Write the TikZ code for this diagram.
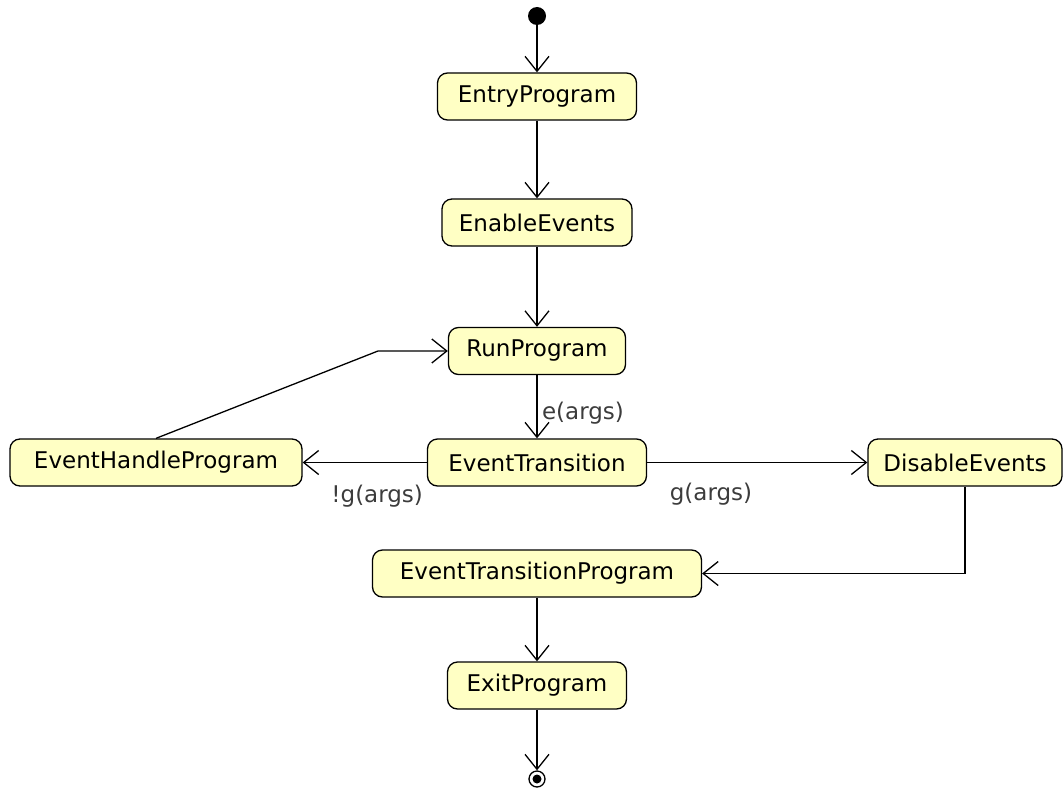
\documentclass[tikz,border=0pt]{standalone}
\usepackage{fontspec}
\setmainfont{DejaVu Sans}
\usetikzlibrary{arrows.meta,positioning}

\definecolor{actfill}{HTML}{FFFFC4}
\definecolor{guardgray}{HTML}{3C3C3C}

\begin{document}
\begin{tikzpicture}
 	[x=1pt,y=-1pt,
	action/.style={rectangle,rounded corners=10pt,draw=black,fill=actfill,line width=1.3pt,minimum height=47pt,inner xsep=10pt,font=\fontsize{23}{27}\selectfont},
	flow/.style={line width=1.3pt,-{Straight Barb[length=15pt,width=24pt,line width=1.3pt]}},
	guard/.style={text=guardgray,font=\fontsize{23}{27}\selectfont},
	startpt/.style={circle,fill=black,inner sep=0pt,minimum size=18pt},
	endpt/.style={circle,draw=black,line width=1.3pt,fill=white,inner sep=0pt,minimum size=16pt}]
	\useasboundingbox (0,0) rectangle (1064,789);
	% main column
	\node (init) at (537,16) [startpt] {};
	\node (entry) at (537,96.5) [action,minimum width=199pt] {EntryProgram};
	\node (enable) at (537,222.5) [action,minimum width=190pt] {EnableEvents};
	\node (run) at (537,351) [action,minimum width=177pt] {RunProgram};
	\node (evtrans) at (537,462.5) [action,minimum width=219pt] {EventTransition};
	\node (handle) at (156,462.5) [action,minimum width=292pt] {EventHandleProgram};
	\node (disable) at (965,462.5) [action,minimum width=194pt] {DisableEvents};
	\node (etprog) at (537,573.5) [action,minimum width=329pt] {EventTransitionProgram};
	\node (exitprog) at (537,685.5) [action,minimum width=179pt] {ExitProgram};
	\node (final) at (537,779) [endpt] {};
	\fill (final.center) circle (4.5pt);
	\coordinate (bend) at (378,351);
	% transitions
	\draw [flow] (init) -- (entry);
	\draw [flow] (entry) -- (enable);
	\draw [flow] (enable) -- (run);
	\draw [flow] (run) -- node[guard,pos=0.6,xshift=46pt] {e(args)} (evtrans);
	\draw [flow] (evtrans) -- node[guard,pos=0.4,yshift=-34pt] {!g(args)} (handle);
	\draw [flow] (evtrans) -- node[guard,pos=0.29,yshift=-32pt] {g(args)} (disable);
	\draw [flow] (handle.north) -- (bend) -- (run.west);
	\draw [flow] (disable.south) |- (etprog.east);
	\draw [flow] (etprog) -- (exitprog);
	\draw [flow] (exitprog) -- (final);
\end{tikzpicture}
\end{document}
